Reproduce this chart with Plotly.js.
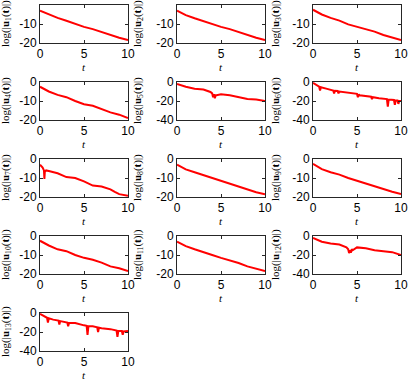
<!DOCTYPE html>
<html>
<head>
<meta charset="utf-8">
<script src="https://cdn.plot.ly/plotly-3.0.1.min.js"></script>
<style>
  html, body { margin: 0; padding: 0; background: #fff; }
  #plot { width: 409px; height: 382px; }
</style>
</head>
<body>
<div id="plot"></div>
<script>
// time samples
var tBase = [0, 1, 2, 3, 4, 5, 6, 7, 8, 9, 10];

// smooth components
var u1 = [-3, -5, -6.8, -8.3, -10, -11.5, -12.7, -14.3, -15.8, -17.2, -18.5];
var u2 = [-3, -5.3, -7, -8.5, -10.3, -11.5, -12.7, -14.3, -15.8, -17.2, -18.5];
var u3 = [-2.5, -5, -6.8, -8.2, -10.2, -11.5, -12.5, -14, -15.8, -17, -18.5];
var u4 = [-2.5, -5, -6.8, -8, -10, -11.7, -12.5, -14.3, -16, -17.2, -19];
var u8 = [-3, -5.5, -7, -8.5, -10, -11.5, -13, -14.5, -16, -17.5, -18.5];
var u9 = [-2.5, -5.3, -7, -8.2, -10, -11.5, -12.8, -14.3, -16, -17.2, -18.5];
var u10 = [-2.5, -5, -7, -8, -10, -11.5, -12.5, -14, -16, -17, -18.5];
var u11 = [-3, -5.3, -7, -8.3, -10, -11.5, -12.7, -14.2, -16, -17.3, -18.5];

// components with spikes / dips
var t5 = [0, 1, 2, 3, 3.8, 4.0, 4.1, 4.2, 4.3, 4.4, 4.5, 5, 6, 7, 8, 9, 10];
var u5 = [-2, -5, -7, -8, -10.5, -12, -16, -13, -17, -14, -14, -13, -14, -16, -18, -18.5, -20];

var t6 = [0, 0.7, 0.8, 0.9, 1.5, 2.3, 2.4, 2.5, 2.8, 2.9, 3.0, 4, 5, 5.1, 5.2, 5.3, 6, 6.6, 6.7, 6.8, 7.5, 8.4, 8.5, 8.6, 9.2, 9.3, 9.4, 9.6, 9.7, 9.8, 10];
var u6 = [-1, -5, -9, -5.5, -7, -9, -12, -9.2, -9.5, -12, -10, -11, -12.5, -16, -13, -14, -15, -15.5, -18, -16, -17, -18, -26, -18.5, -19, -24, -19.5, -19.5, -23, -20, -20];

var t7 = [0, 0.3, 0.45, 0.5, 0.55, 0.7, 1, 2, 3, 4, 5, 5.5, 6, 7, 8, 8.5, 9, 10];
var u7 = [-3, -4.5, -6, -10.5, -6.5, -6, -6.3, -7.5, -9.5, -10, -11.8, -13, -14, -14.5, -16, -17.3, -18.5, -19.3];

var t12 = [0, 1, 2, 3, 3.8, 4.0, 4.1, 4.2, 4.3, 4.4, 4.5, 4.7, 5, 6, 7, 8, 9, 10];
var u12 = [-2, -6, -8, -9, -12, -14, -18, -15, -17.5, -14, -15, -14, -12, -13, -15, -16, -17, -20];

var t13 = [0, 0.8, 0.9, 1.0, 1.5, 2.1, 2.2, 2.3, 3.1, 3.2, 3.3, 4, 5, 5.3, 5.4, 5.5, 6, 6.5, 6.6, 6.7, 7, 8, 8.7, 8.8, 8.9, 9.3, 9.4, 9.5, 10];
var u13 = [-1, -5, -10, -5.5, -7, -8, -12, -8.5, -10, -14, -10.5, -10.5, -13, -13.5, -23, -14, -14, -15, -20, -15.5, -16, -17, -18.5, -25, -19, -19, -23, -19.5, -19];

var tSeries = [tBase, tBase, tBase, tBase, t5, t6, t7, tBase, tBase, tBase, tBase, t12, t13];
var uSeries = [u1, u2, u3, u4, u5, u6, u7, u8, u9, u10, u11, u12, u13];
var deepRange = [false, false, false, false, true, true, false, false, false, false, false, true, true];

var W = 409, H = 382;
var colLeft = [40, 177, 313];
var colWidth = 88;
var rowTop = [5, 82, 159, 236, 313];
var rowHeight = 38;
var titleX = [6, 138, 276];

var traces = [];
var layout = {
    width: W,
    height: H,
    margin: { l: 0, r: 0, t: 0, b: 0 },
    paper_bgcolor: '#fff',
    plot_bgcolor: '#fff',
    showlegend: false,
    annotations: []
};

var tickFont = { family: 'Liberation Sans, Arial, sans-serif', size: 12, color: '#000' };

for (var i = 0; i < uSeries.length; i++) {
    var n = i + 1;
    var row = Math.floor(i / 3);
    var col = i % 3;
    var xa = n === 1 ? 'xaxis' : 'xaxis' + n;
    var ya = n === 1 ? 'yaxis' : 'yaxis' + n;

    traces.push({
        x: tSeries[i],
        y: uSeries[i],
        xaxis: 'x' + (n === 1 ? '' : n),
        yaxis: 'y' + (n === 1 ? '' : n),
        mode: 'lines',
        type: 'scatter',
        line: { color: '#ff0000', width: 2 },
        hoverinfo: 'skip'
    });

    var x0 = colLeft[col], x1 = x0 + colWidth;
    var y0 = rowTop[row], y1 = y0 + rowHeight;

    layout[xa] = {
        domain: [x0 / W, x1 / W],
        anchor: 'y' + (n === 1 ? '' : n),
        range: [0, 10],
        tickvals: [0, 5, 10],
        ticktext: ['0', '5', '10'],
        ticks: 'inside',
        ticklen: 3,
        tickcolor: '#262626',
        showline: true,
        mirror: 'ticks',
        linecolor: '#262626',
        linewidth: 1,
        showgrid: false,
        zeroline: false,
        tickfont: tickFont,
        fixedrange: true
    };

    var yr = deepRange[i] ? [-40, 0] : [-20, 0];
    var yt = deepRange[i] ? [-40, -20, 0] : [-20, -10, 0];
    layout[ya] = {
        domain: [1 - y1 / H, 1 - y0 / H],
        anchor: 'x' + (n === 1 ? '' : n),
        range: yr,
        tickvals: yt,
        ticktext: yt.map(function (v) { return String(v); }),
        ticks: 'inside',
        ticklen: 3,
        tickcolor: '#262626',
        showline: true,
        mirror: 'ticks',
        linecolor: '#262626',
        linewidth: 1,
        showgrid: false,
        zeroline: false,
        tickfont: tickFont,
        fixedrange: true
    };

    // x title
    layout.annotations.push({
        text: 't',
        xref: 'paper', yref: 'paper',
        x: (x0 + colWidth / 2) / W,
        y: 1 - (y1 + 24) / H,
        xanchor: 'center', yanchor: 'middle',
        borderpad: 0,
        showarrow: false,
        font: { family: 'Liberation Serif, Times New Roman, serif', size: 11, color: '#000', style: 'italic' }
    });

    // y title
    layout.annotations.push({
        text: 'log(|<b>u</b><sub>' + n + '</sub>(<b>t</b>)|)',
        xref: 'paper', yref: 'paper',
        x: titleX[col] / W,
        y: 1 - (y0 + rowHeight / 2) / H,
        xanchor: 'center', yanchor: 'middle',
        textangle: -90,
        showarrow: false,
        font: { family: 'Liberation Serif, Times New Roman, serif', size: 11, color: '#000' }
    });
}

Plotly.newPlot('plot', traces, layout, { staticPlot: true, displayModeBar: false });
</script>
</body>
</html>
